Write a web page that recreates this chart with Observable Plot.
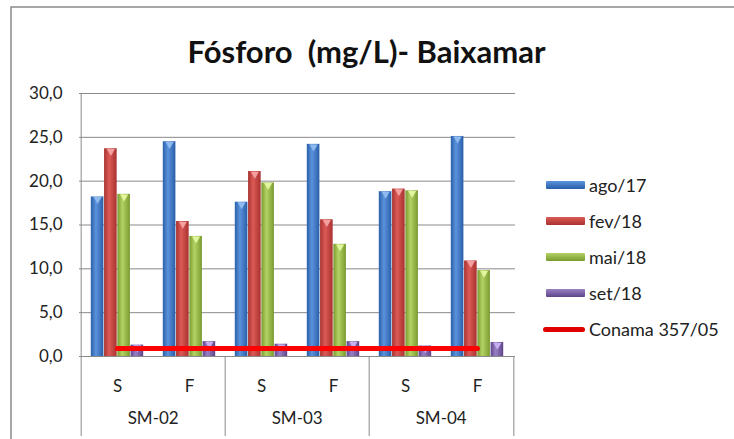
<!DOCTYPE html>
<html>
<head>
<meta charset="utf-8">
<script src="https://cdn.jsdelivr.net/npm/d3@7"></script>
<script src="https://cdn.jsdelivr.net/npm/@observablehq/plot@0.6"></script>
<style>
  html, body { margin: 0; padding: 0; background: #fff; }
  #wrap { position: relative; width: 734px; height: 439px; overflow: hidden; font-family: Lato, "Open Sans", sans-serif; }
  #legend { position: absolute; left: 546px; top: 167px; }
  .item { display: flex; align-items: center; height: 36px; font-size: 18px; color: #222; }
  .sw { width: 39px; height: 8px; margin-right: 4px; border-radius: 1px; }
  .ln { width: 42px; height: 5px; margin-left: -3px; margin-right: 4px; background: #e00000; border-radius: 3px; }
</style>
</head>
<body>
<div id="wrap"><div id="legend"></div></div>
<script>
const title = "Fósforo  (mg/L)- Baixamar";
const sites = ["SM-02", "SM-03", "SM-04"];
const tides = ["S", "F"];
const seriesNames = ["ago/17", "fev/18", "mai/18", "set/18"];
const ago17 = [18.2, 24.5, 17.6, 24.2, 18.8, 25.1];
const fev18 = [23.7, 15.4, 21.1, 15.6, 19.1, 10.9];
const mai18 = [18.5, 13.7, 19.8, 12.8, 18.9, 9.8];
const set18 = [1.3, 1.7, 1.4, 1.7, 1.2, 1.6];
const conamaName = "Conama 357/05";
const conama = [0.9, 0.9, 0.9, 0.9, 0.9, 0.9];
const yTicks = [0, 5, 10, 15, 20, 25, 30];

const seriesValues = [ago17, fev18, mai18, set18];
const colors = [
  {id: "gBlue", edge: "#2a5ea8", mid: "#5b92dc", top: "#8fbaf0", base: "#3a70c0"},
  {id: "gRed", edge: "#a83230", mid: "#dc5a56", top: "#f4a0a0", base: "#c0403c"},
  {id: "gGreen", edge: "#7a9a30", mid: "#b4d264", top: "#e0f59c", base: "#98b848"},
  {id: "gPurple", edge: "#5e4488", mid: "#9a80c4", top: "#c8b0f0", base: "#7a5ca8"}
];

const cats = [];
sites.forEach(s => tides.forEach(t => cats.push({key: s + "|" + t, site: s, tide: t})));
const rows = cats.map((c, i) => ({...c, v: seriesValues.map(a => a[i]), conama: conama[i]}));

const W = 734, H = 439;
const mL = 79, mR = 219, mT = 93, mB = 83;
const bw = (W - mL - mR) / cats.length;
const gpad = 9.8;
const barW = (bw - 2 * gpad) / 4;

const marks = [
  Plot.gridY(yTicks, {stroke: "#8a8a8a", strokeOpacity: 1, strokeWidth: 1}),
  Plot.axisY(yTicks, {tickSize: 0, tickPadding: 17, label: null, tickFormat: d => d3.format(".1f")(d).replace(".", ","), fontSize: 17, fill: "#222"}),
  Plot.ruleY([0], {stroke: "#8a8a8a"})
];
seriesValues.forEach((arr, k) => {
  marks.push(Plot.barY(rows, {
    x: "key", y: d => d.v[k],
    insetLeft: gpad + barW * k, insetRight: bw - gpad - barW * (k + 1),
    fill: `url(#${colors[k].id})`
  }));
  marks.push(Plot.dot(rows, {
    x: "key", y: d => d.v[k], dx: barW * (k - 1.5), dy: 2.5,
    symbol: "triangle", rotate: 180, r: 3, fill: colors[k].top, stroke: "none"
  }));
});
marks.push(Plot.lineY(rows, {x: "key", y: "conama", stroke: "#ff0000", strokeWidth: 5}));
// category separators and frame
const seps = [cats[0].key, cats[2].key, cats[4].key];
marks.push(Plot.ruleX(seps, {x: d => d, dx: -bw / 2, y1: 0, y2: 0, insetBottom: -80, stroke: "#8a8a8a"}));
marks.push(Plot.ruleX([cats[cats.length - 1].key], {x: d => d, dx: bw / 2, y1: 0, y2: 0, insetBottom: -80, stroke: "#8a8a8a"}));
marks.push(Plot.ruleX([cats[0].key], {x: d => d, dx: -bw / 2, y1: 30, y2: 0, stroke: "#8a8a8a"}));
// category labels
marks.push(Plot.text(rows, {x: "key", y: 0, text: "tide", dy: 30, fontSize: 17, fill: "#222"}));
marks.push(Plot.text(sites, {x: s => s + "|F", y: 0, text: d => d, dx: -bw / 2, dy: 62, fontSize: 17, fill: "#222"}));
// title
marks.push(Plot.text([title], {frameAnchor: "top", dx: (W / 2 - 1) - (mL + (W - mL - mR) / 2), dy: -53, text: d => d, fontSize: 31, fontWeight: "bold", fill: "#111"}));

const chart = Plot.plot({
  width: W, height: H,
  marginLeft: mL, marginRight: mR, marginTop: mT, marginBottom: mB,
  style: {fontFamily: "Lato, 'Open Sans', sans-serif", background: "transparent", overflow: "visible"},
  x: {domain: cats.map(c => c.key), padding: 0, axis: null},
  y: {domain: [0, 30], axis: null, label: null},
  marks
});

// gradient defs
const svg = d3.select(chart);
const defs = svg.insert("defs", ":first-child");
colors.forEach(c => {
  const g = defs.append("linearGradient").attr("id", c.id).attr("x1", "0").attr("x2", "1").attr("y1", "0").attr("y2", "0");
  g.append("stop").attr("offset", "0%").attr("stop-color", c.edge);
  g.append("stop").attr("offset", "40%").attr("stop-color", c.mid);
  g.append("stop").attr("offset", "100%").attr("stop-color", c.edge);
});
// outer border (top + left)
svg.append("path").attr("d", `M11,${H} V7 H${W}`).attr("fill", "none").attr("stroke", "#8a8a8a").attr("stroke-width", 1.5);

const wrap = document.getElementById("wrap");
chart.style.position = "absolute"; chart.style.left = "0"; chart.style.top = "0";
wrap.insertBefore(chart, wrap.firstChild);

const legend = document.getElementById("legend");
seriesNames.forEach((n, k) => {
  const it = document.createElement("div"); it.className = "item";
  const sw = document.createElement("div"); sw.className = "sw";
  sw.style.background = `linear-gradient(to bottom, ${colors[k].mid}, ${colors[k].edge})`;
  it.appendChild(sw);
  const t = document.createElement("span"); t.textContent = n; it.appendChild(t);
  legend.appendChild(it);
});
{
  const it = document.createElement("div"); it.className = "item";
  const ln = document.createElement("div"); ln.className = "ln"; it.appendChild(ln);
  const t = document.createElement("span"); t.textContent = conamaName; it.appendChild(t);
  legend.appendChild(it);
}
</script>
</body>
</html>
